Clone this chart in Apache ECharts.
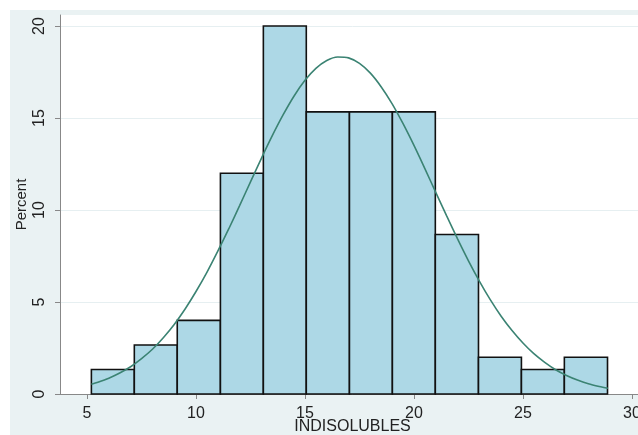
<!DOCTYPE html>
<html>
<head>
<meta charset="utf-8">
<script src="https://cdn.jsdelivr.net/npm/echarts@6/dist/echarts.min.js"></script>
<style>
html,body{margin:0;padding:0;background:#fff;overflow:hidden;width:638px;height:435px;}
#chart{position:absolute;left:10px;top:10px;width:700px;height:425px;background:#eaf2f3;}
</style>
</head>
<body>
<div id="chart"></div>
<script>
// Histogram bins (left edges, right edges) and percents
const binLeft  = [5.2, 7.17, 9.14, 11.12, 13.09, 15.06, 17.04, 19.01, 20.98, 22.96, 24.93, 26.9];
const binRight = [7.17, 9.14, 11.12, 13.09, 15.06, 17.04, 19.01, 20.98, 22.96, 24.93, 26.9, 28.88];
const percent  = [1.333, 2.667, 4, 12, 20, 15.333, 15.333, 15.333, 8.667, 2, 1.333, 2];
// Normal density curve
const curveX = [5.2, 5.5, 6, 6.5, 7, 7.5, 8, 8.5, 9, 9.5, 10, 10.5, 11, 11.5, 12, 12.5, 13, 13.5, 14, 14.5, 15, 15.5, 16, 16.5, 17, 17.5, 18, 18.5, 19, 19.5, 20, 20.5, 21, 21.5, 22, 22.5, 23, 23.5, 24, 24.5, 25, 25.5, 26, 26.5, 27, 27.5, 28, 28.5, 28.9];
const curveY = [0.53, 0.64, 0.86, 1.14, 1.48, 1.92, 2.43, 3.06, 3.78, 4.62, 5.57, 6.61, 7.76, 8.97, 10.24, 11.53, 12.81, 14.04, 15.18, 16.20, 17.05, 17.70, 18.13, 18.32, 18.27, 17.97, 17.44, 16.69, 15.77, 14.69, 13.51, 12.25, 10.96, 9.68, 8.43, 7.24, 6.14, 5.13, 4.23, 3.45, 2.77, 2.19, 1.72, 1.32, 1.01, 0.76, 0.56, 0.41, 0.31];
const xTicks = [5, 10, 15, 20, 25, 30];
const yTicks = [0, 5, 10, 15, 20];

const chart = echarts.init(document.getElementById('chart'), null, {renderer: 'canvas'});
const barData = binLeft.map((l, i) => [l, binRight[i], percent[i]]);
const lineData = curveX.map((x, i) => [x, curveY[i]]);
const font = 'Liberation Sans, Arial, sans-serif';

chart.setOption({
  animation: false,
  grid: {left: 50, top: 5, width: 585, height: 379, show: true, backgroundColor: '#ffffff', borderWidth: 0,
         containLabel: false, outerBoundsMode: 'none'},
  xAxis: {
    type: 'value', min: 3.76, max: 30.6,
    name: 'INDISOLUBLES', nameLocation: 'middle', nameGap: 25, nameMoveOverlap: false,
    nameTextStyle: {color: '#222', fontSize: 16, fontFamily: font},
    axisLine: {show: true, lineStyle: {color: '#888', width: 1}},
    axisTick: {show: true, length: 5, customValues: xTicks, lineStyle: {color: '#888'}},
    axisLabel: {customValues: xTicks, color: '#222', fontSize: 16, fontFamily: font, margin: 12},
    splitLine: {show: false}
  },
  yAxis: {
    type: 'value', min: 0, max: 20.6,
    name: 'Percent', nameLocation: 'middle', nameGap: 31, nameRotate: 90, nameMoveOverlap: false,
    nameTextStyle: {color: '#222', fontSize: 15, fontFamily: font},
    axisLine: {show: true, lineStyle: {color: '#888', width: 1}},
    axisTick: {show: true, length: 5, customValues: yTicks, lineStyle: {color: '#888'}},
    axisLabel: {customValues: yTicks, rotate: 90, color: '#222', fontSize: 16, fontFamily: font, margin: 12},
    splitLine: {show: true, customValues: yTicks, lineStyle: {color: '#e6eff1', width: 1}}
  },
  series: [
    {
      type: 'custom',
      data: barData,
      encode: {x: [0, 1], y: 2},
      renderItem: function (params, api) {
        const p0 = api.coord([api.value(0), 0]);
        const p1 = api.coord([api.value(1), api.value(2)]);
        return {
          type: 'rect',
          shape: {x: p0[0], y: p1[1], width: p1[0] - p0[0], height: p0[1] - p1[1]},
          style: {fill: '#add8e6', stroke: '#111', lineWidth: 1.6}
        };
      }
    },
    {
      type: 'line',
      data: lineData,
      smooth: 0.3,
      showSymbol: false,
      symbol: 'none',
      lineStyle: {color: '#3b8373', width: 1.6},
      z: 5
    }
  ]
});
</script>
</body>
</html>
